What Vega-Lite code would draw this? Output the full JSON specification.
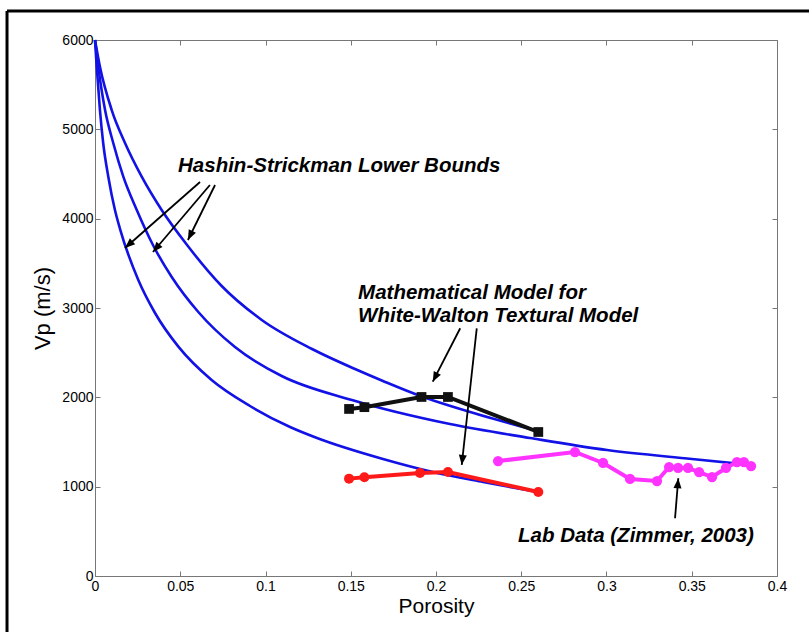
{
  "$schema": "https://vega.github.io/schema/vega-lite/v6.json",
  "width": 682,
  "height": 536,
  "autosize": {"type": "none"},
  "padding": {"left": 95, "top": 40, "right": 32, "bottom": 56},
  "background": "white",
  "config": {"view": {"stroke": null}, "font": "Liberation Sans"},
  "datasets": {
    "curves": [
      {"s": "hs1", "p": 0, "v": 6000}, {"s": "hs1", "p": 0.001, "v": 5701}, {"s": "hs1", "p": 0.0029, "v": 5216},
      {"s": "hs1", "p": 0.0048, "v": 4847}, {"s": "hs1", "p": 0.0078, "v": 4470}, {"s": "hs1", "p": 0.0117, "v": 4097},
      {"s": "hs1", "p": 0.0147, "v": 3884}, {"s": "hs1", "p": 0.0254, "v": 3313}, {"s": "hs1", "p": 0.0352, "v": 2944},
      {"s": "hs1", "p": 0.0489, "v": 2567}, {"s": "hs1", "p": 0.0684, "v": 2194}, {"s": "hs1", "p": 0.0909, "v": 1903},
      {"s": "hs1", "p": 0.1144, "v": 1668}, {"s": "hs1", "p": 0.1302, "v": 1545}, {"s": "hs1", "p": 0.1689, "v": 1310},
      {"s": "hs1", "p": 0.1982, "v": 1164}, {"s": "hs1", "p": 0.2276, "v": 1052}, {"s": "hs1", "p": 0.2598, "v": 940},
      {"s": "hs2", "p": 0, "v": 6000}, {"s": "hs2", "p": 0.0019, "v": 5701}, {"s": "hs2", "p": 0.0059, "v": 5216},
      {"s": "hs2", "p": 0.0107, "v": 4847}, {"s": "hs2", "p": 0.0166, "v": 4470}, {"s": "hs2", "p": 0.0245, "v": 4097},
      {"s": "hs2", "p": 0.034, "v": 3705}, {"s": "hs2", "p": 0.045, "v": 3347}, {"s": "hs2", "p": 0.0606, "v": 2955},
      {"s": "hs2", "p": 0.0821, "v": 2563}, {"s": "hs2", "p": 0.1095, "v": 2239}, {"s": "hs2", "p": 0.1507, "v": 1970},
      {"s": "hs2", "p": 0.2082, "v": 1701}, {"s": "hs2", "p": 0.2551, "v": 1545}, {"s": "hs2", "p": 0.3003, "v": 1410},
      {"s": "hs2", "p": 0.3501, "v": 1310}, {"s": "hs2", "p": 0.3848, "v": 1243},
      {"s": "hs3", "p": 0, "v": 6000}, {"s": "hs3", "p": 0.0029, "v": 5701}, {"s": "hs3", "p": 0.0098, "v": 5216},
      {"s": "hs3", "p": 0.0176, "v": 4847}, {"s": "hs3", "p": 0.0274, "v": 4470}, {"s": "hs3", "p": 0.0391, "v": 4097},
      {"s": "hs3", "p": 0.054, "v": 3705}, {"s": "hs3", "p": 0.0743, "v": 3246}, {"s": "hs3", "p": 0.0978, "v": 2866},
      {"s": "hs3", "p": 0.1273, "v": 2541}, {"s": "hs3", "p": 0.1525, "v": 2317}, {"s": "hs3", "p": 0.1689, "v": 2183},
      {"s": "hs3", "p": 0.1924, "v": 2004}, {"s": "hs3", "p": 0.2123, "v": 1881}, {"s": "hs3", "p": 0.2598, "v": 1623}
    ],
    "obs": [
      {"s": "model1", "p": 0.149, "v": 1870}, {"s": "model1", "p": 0.158, "v": 1890}, {"s": "model1", "p": 0.1915, "v": 2004},
      {"s": "model1", "p": 0.207, "v": 2004}, {"s": "model1", "p": 0.26, "v": 1612},
      {"s": "model2", "p": 0.149, "v": 1090}, {"s": "model2", "p": 0.158, "v": 1105}, {"s": "model2", "p": 0.1906, "v": 1153},
      {"s": "model2", "p": 0.207, "v": 1164}, {"s": "model2", "p": 0.26, "v": 940},
      {"s": "lab", "p": 0.2364, "v": 1287}, {"s": "lab", "p": 0.2815, "v": 1388}, {"s": "lab", "p": 0.298, "v": 1265},
      {"s": "lab", "p": 0.3138, "v": 1086}, {"s": "lab", "p": 0.3296, "v": 1063}, {"s": "lab", "p": 0.3367, "v": 1220},
      {"s": "lab", "p": 0.342, "v": 1209}, {"s": "lab", "p": 0.3478, "v": 1209}, {"s": "lab", "p": 0.3543, "v": 1164},
      {"s": "lab", "p": 0.3619, "v": 1108}, {"s": "lab", "p": 0.3701, "v": 1209}, {"s": "lab", "p": 0.3765, "v": 1276},
      {"s": "lab", "p": 0.3806, "v": 1276}, {"s": "lab", "p": 0.3848, "v": 1231}
    ],
    "arrows": [
      {"p1": 0.0616, "v1": 4410, "p2": 0.0176, "v2": 3672},
      {"p1": 0.0674, "v1": 4377, "p2": 0.034, "v2": 3627},
      {"p1": 0.0704, "v1": 4377, "p2": 0.0545, "v2": 3761},
      {"p1": 0.2142, "v1": 2773, "p2": 0.1981, "v2": 2175},
      {"p1": 0.2239, "v1": 2773, "p2": 0.2151, "v2": 1243},
      {"p1": 0.3402, "v1": 646, "p2": 0.3421, "v2": 1094}
    ],
    "notes": [
      {"label": "Hashin-Strickman Lower Bounds", "p": 0.0487, "v": 4590},
      {"label": "Mathematical Model for", "p": 0.1543, "v": 3168},
      {"label": "White-Walton Textural Model", "p": 0.1543, "v": 2910},
      {"label": "Lab Data (Zimmer, 2003)", "p": 0.2481, "v": 448}
    ],
    "frame": [
      {"p1": -0.0516, "v1": 6325, "p2": -0.0516, "v2": -700},
      {"p1": -0.0516, "v1": 6325, "p2": 0.45, "v2": 6325}
    ]
  },
  "layer": [
    {
      "data": {"name": "curves"},
      "mark": {"type": "line", "interpolate": "monotone", "strokeWidth": 2.6, "color": "#1212e6"},
      "encoding": {
        "x": {"field": "p", "type": "quantitative", "scale": {"domain": [0, 0.4], "nice": false, "zero": false},
          "axis": {"orient": "bottom", "values": [0, 0.05, 0.1, 0.15, 0.2, 0.25, 0.3, 0.35, 0.4], "format": "~g",
            "grid": false, "labelFont": "Liberation Sans", "labelFontSize": 14, "labelColor": "#000", "labelFlush": false,
            "labelOverlap": false, "tickColor": "#777", "domainColor": "#777", "tickSize": -5, "labelPadding": 8,
            "title": "Porosity", "titleFont": "Liberation Sans", "titleFontSize": 21, "titleFontWeight": "normal",
            "titleColor": "#000", "titlePadding": 2}},
        "y": {"field": "v", "type": "quantitative", "scale": {"domain": [0, 6000], "nice": false, "zero": false},
          "axis": {"orient": "left", "values": [0, 1000, 2000, 3000, 4000, 5000, 6000], "format": "d",
            "grid": false, "labelFont": "Liberation Sans", "labelFontSize": 14, "labelColor": "#000", "labelFlush": false,
            "labelOverlap": false, "tickColor": "#777", "domainColor": "#777", "tickSize": -5, "labelPadding": 7,
            "title": "Vp (m/s)", "titleFont": "Liberation Sans", "titleFontSize": 22, "titleFontWeight": "normal",
            "titleColor": "#000", "titlePadding": 7}},
        "detail": {"field": "s"}
      }
    },
    {
      "data": {"name": "obs"},
      "mark": {"type": "line", "strokeWidth": 4},
      "encoding": {
        "x": {"field": "p", "type": "quantitative", "scale": {"domain": [0, 0.4], "nice": false, "zero": false},
          "axis": {"orient": "top", "values": [0, 0.05, 0.1, 0.15, 0.2, 0.25, 0.3, 0.35, 0.4], "labels": false,
            "grid": false, "tickColor": "#777", "domainColor": "#777", "tickSize": -5, "title": null}},
        "y": {"field": "v", "type": "quantitative", "scale": {"domain": [0, 6000], "nice": false, "zero": false},
          "axis": {"orient": "right", "values": [0, 1000, 2000, 3000, 4000, 5000, 6000], "labels": false,
            "grid": false, "tickColor": "#777", "domainColor": "#777", "tickSize": -5, "title": null}},
        "color": {"field": "s", "type": "nominal", "legend": null,
          "scale": {"domain": ["model1", "model2", "lab"], "range": ["#111111", "#ff1a1a", "#ff33ff"]}},
        "detail": {"field": "s"}
      }
    },
    {
      "data": {"name": "obs"},
      "mark": {"type": "point", "filled": true, "opacity": 1},
      "encoding": {
        "x": {"field": "p", "type": "quantitative", "scale": {"domain": [0, 0.4], "nice": false, "zero": false}, "axis": null},
        "y": {"field": "v", "type": "quantitative", "scale": {"domain": [0, 6000], "nice": false, "zero": false}, "axis": null},
        "color": {"field": "s", "type": "nominal", "legend": null,
          "scale": {"domain": ["model1", "model2", "lab"], "range": ["#111111", "#ff1a1a", "#ff33ff"]}},
        "shape": {"field": "s", "type": "nominal", "legend": null,
          "scale": {"domain": ["model1", "model2", "lab"], "range": ["square", "circle", "circle"]}},
        "size": {"field": "s", "type": "nominal", "legend": null,
          "scale": {"domain": ["model1", "model2", "lab"], "range": [95, 105, 115]}}
      }
    },
    {
      "data": {"name": "arrows"},
      "mark": {"type": "rule", "color": "#000", "strokeWidth": 1.8},
      "encoding": {
        "x": {"field": "p1", "type": "quantitative", "scale": {"domain": [0, 0.4], "nice": false, "zero": false}, "axis": null},
        "y": {"field": "v1", "type": "quantitative", "scale": {"domain": [0, 6000], "nice": false, "zero": false}, "axis": null},
        "x2": {"field": "p2"},
        "y2": {"field": "v2"}
      }
    },
    {
      "data": {"name": "arrows"},
      "transform": [
        {"calculate": "atan2((datum.p2 - datum.p1) * 1705, (datum.v2 - datum.v1) * 0.08933) * 180 / PI", "as": "ang"}
      ],
      "mark": {"type": "point", "filled": true, "color": "#000", "opacity": 1, "size": 400,
        "shape": "M0,0L-0.4,1L0.4,1Z"},
      "encoding": {
        "x": {"field": "p2", "type": "quantitative", "scale": {"domain": [0, 0.4], "nice": false, "zero": false}, "axis": null},
        "y": {"field": "v2", "type": "quantitative", "scale": {"domain": [0, 6000], "nice": false, "zero": false}, "axis": null},
        "angle": {"field": "ang", "type": "quantitative", "scale": null}
      }
    },
    {
      "data": {"name": "notes"},
      "mark": {"type": "text", "align": "left", "baseline": "middle", "font": "Liberation Sans",
        "fontSize": 20.5, "fontWeight": "bold", "fontStyle": "italic", "color": "#000"},
      "encoding": {
        "x": {"field": "p", "type": "quantitative", "scale": {"domain": [0, 0.4], "nice": false, "zero": false}, "axis": null},
        "y": {"field": "v", "type": "quantitative", "scale": {"domain": [0, 6000], "nice": false, "zero": false}, "axis": null},
        "text": {"field": "label"}
      }
    },
    {
      "data": {"name": "frame"},
      "mark": {"type": "rule", "color": "#000", "strokeWidth": 3, "clip": false},
      "encoding": {
        "x": {"field": "p1", "type": "quantitative", "scale": {"domain": [0, 0.4], "nice": false, "zero": false}, "axis": null},
        "y": {"field": "v1", "type": "quantitative", "scale": {"domain": [0, 6000], "nice": false, "zero": false}, "axis": null},
        "x2": {"field": "p2"},
        "y2": {"field": "v2"}
      }
    }
  ],
  "resolve": {"axis": {"x": "independent", "y": "independent"}}
}
